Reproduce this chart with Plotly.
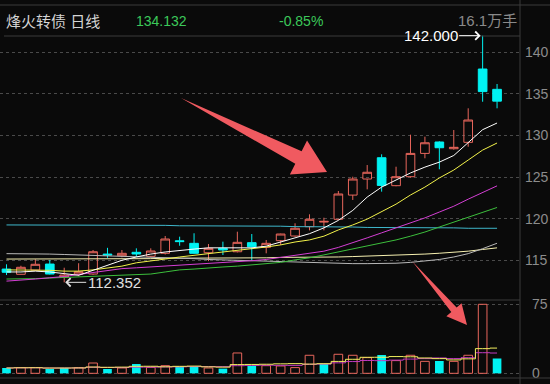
import plotly.graph_objects as go
import pandas as pd

W, H = 550, 384

# ---------------- data ----------------
idx = list(range(35))
opens = [113.95, 113.32, 113.83, 114.55, 112.99, 113.35, 113.35, 115.75, 115.55, 115.96,
         115.48, 115.84, 117.35, 117.04, 115.91, 116.44, 116.03, 117.12, 116.56, 117.36,
         117.92, 119.04, 119.60, 119.93, 122.84, 124.77, 127.33, 123.97, 125.05, 127.85,
         129.22, 128.41, 129.18, 137.99, 135.55]
highs = [114.52, 114.35, 115.12, 115.04, 114.11, 114.65, 116.24, 116.50, 116.24, 116.44,
         116.44, 117.92, 117.84, 118.25, 116.96, 117.24, 118.44, 118.16, 117.44, 118.20,
         119.45, 120.53, 120.12, 123.33, 125.05, 126.45, 127.74, 126.25, 130.10, 129.86,
         129.30, 130.66, 133.27, 142.000, 136.19]
lows = [113.23, 113.30, 113.80, 113.30, 112.352, 113.10, 113.25, 115.30, 115.36, 115.43,
        115.40, 115.70, 116.75, 115.80, 114.90, 115.64, 115.95, 114.95, 115.84, 116.84,
        117.85, 118.60, 118.60, 119.85, 122.25, 123.53, 123.25, 123.90, 124.95, 127.26,
        125.94, 128.30, 128.65, 134.06, 133.27]
closes = [113.56, 114.16, 114.52, 113.35, 113.23, 113.63, 116.03, 115.65, 115.84, 115.76,
          116.12, 117.56, 117.25, 115.84, 116.44, 116.24, 117.16, 116.63, 117.04, 118.16,
          118.85, 119.93, 119.68, 122.97, 124.77, 125.58, 124.00, 125.05, 127.85, 129.13,
          128.53, 128.58, 131.86, 135.28, 134.132]
volumes = [5.8, 6.2, 6.2, 4.7, 5.8, 6.2, 11.2, 4.7, 5.8, 10.1,
           6.5, 8.3, 7.2, 7.2, 5.8, 5.1, 22.1, 8.0, 8.3, 8.0,
           6.2, 19.6, 10.1, 20.7, 19.6, 17.0, 19.9, 13.8, 19.6, 13.0,
           13.4, 13.0, 19.6, 75.0, 16.1]
vol_up = [0, 1, 1, 0, 0, 1, 1, 0, 1, 0,
          1, 1, 0, 0, 1, 0, 1, 0, 1, 1,
          1, 1, 0, 1, 1, 1, 0, 1, 1, 1,
          0, 1, 1, 1, 0]

ma5 = [113.6, 113.6, 113.7, 113.6, 113.4, 113.2, 113.8, 114.4, 115.0, 115.4,
       115.75, 116.0, 116.2, 116.35, 116.5, 116.5, 116.5, 116.5, 116.7, 117.2,
       117.7, 118.2, 118.9, 119.8, 121.0, 122.6, 123.8, 124.65, 125.5, 126.2,
       126.8, 127.6, 129.2, 130.7, 131.5]
ma10 = [113.85, 113.85, 113.85, 113.8, 113.7, 113.7, 113.85, 114.1, 114.3, 114.7,
        114.9, 115.15, 115.4, 115.6, 115.75, 116.0, 116.2, 116.4, 116.6, 116.85,
        117.2, 117.45, 117.9, 118.65, 119.25, 119.95, 120.8, 121.75, 122.85, 123.8,
        124.9, 125.85, 127.05, 128.25, 129.1]
ma20 = [112.5, 112.6, 112.75, 112.9, 113.05, 113.3, 113.55, 113.8, 114.0, 114.1,
        114.2, 114.3, 114.4, 114.55, 114.65, 114.75, 114.85, 114.95, 115.1, 115.35,
        115.6, 115.85, 116.1, 116.55, 117.1, 117.7, 118.3, 118.9, 119.5, 120.1,
        120.8, 121.5, 122.35, 123.2, 123.95]
ma30 = [112.75, 112.75, 112.8, 112.87, 112.93, 113.0, 113.05, 113.1, 113.17, 113.23,
        113.35, 113.6, 113.85, 113.95, 114.1, 114.2, 114.3, 114.45, 114.55, 114.75,
        115.05, 115.3, 115.65, 116.0, 116.35, 116.7, 117.1, 117.45, 117.9, 118.4,
        119.0, 119.6, 120.2, 120.8, 121.35]
ma60 = [115.8, 115.8, 115.78, 115.75, 115.7, 115.65, 115.55, 115.5, 115.45, 115.4,
        115.35, 115.3, 115.25, 115.2, 115.1, 115.05, 115.0, 114.95, 114.9, 114.8,
        114.75, 114.7, 114.65, 114.6, 114.6, 114.6, 114.6, 114.65, 114.75, 114.9,
        115.1, 115.4, 115.8, 116.4, 117.05]
ma120 = [115.15, 115.15, 115.15, 115.15, 115.15, 115.15, 115.2, 115.2, 115.2, 115.2,
         115.2, 115.25, 115.25, 115.25, 115.25, 115.3, 115.3, 115.3, 115.3, 115.35,
         115.35, 115.35, 115.4, 115.4, 115.45, 115.5, 115.55, 115.6, 115.65, 115.75,
         115.85, 115.95, 116.1, 116.3, 116.5]
ma250 = [119.25, 119.25, 119.25, 119.2, 119.2, 119.2, 119.2, 119.2, 119.2, 119.2,
         119.2, 119.2, 119.15, 119.15, 119.1, 119.1, 119.1, 119.1, 119.1, 119.1,
         119.05, 119.05, 119.0, 119.0, 119.0, 118.95, 118.95, 118.95, 118.9, 118.9,
         118.9, 118.9, 118.85, 118.85, 118.85]

price_ticks = [115, 120, 125, 130, 135, 140]
vol_ticks = [0, 75]

title_name = "烽火转债 日线"
last_price = "134.132"
pct_change = "-0.85%"
last_vol = "16.1万手"
high_label = "142.000"
low_label = "112.352"

# ---------------- style ----------------
BG = "#0a0a0a"
RED = "#e8665c"
CYAN = "#00f2f2"
GRID = "#4a4a4a"
BORDER = "#3a3a3a"
TICK = "#8c8c8c"
FONT = "Liberation Sans, Arial, Noto Sans CJK SC, sans-serif"

def px(x):
    return x / W

def py(y):
    return 1 - y / H

fig = go.Figure()

ma_specs = [
    (ma250, "#3fb8cc"), (ma120, "#f6f0b0"), (ma60, "#b8b8b8"),
    (ma30, "#3cbf3c"), (ma20, "#d43fd4"), (ma10, "#f2f24a"), (ma5, "#ffffff"),
]
for arr, col in ma_specs:
    fig.add_trace(go.Scatter(x=idx, y=arr, mode="lines", line=dict(color=col, width=1),
                             xaxis="x", yaxis="y", hoverinfo="skip"))

fig.add_trace(go.Candlestick(
    x=idx, open=opens, high=highs, low=lows, close=closes,
    increasing=dict(line=dict(color=RED, width=1), fillcolor="rgba(0,0,0,0)"),
    decreasing=dict(line=dict(color=CYAN, width=1), fillcolor=CYAN),
    whiskerwidth=0, xaxis="x", yaxis="y", hoverinfo="skip"))

# volume
up_x = [i for i in idx if vol_up[i]]
dn_x = [i for i in idx if not vol_up[i]]
fig.add_trace(go.Bar(x=up_x, y=[volumes[i] for i in up_x], width=0.6,
                     marker=dict(color="rgba(0,0,0,0)", line=dict(color=RED, width=1)),
                     xaxis="x2", yaxis="y2", hoverinfo="skip"))
fig.add_trace(go.Bar(x=dn_x, y=[volumes[i] for i in dn_x], width=0.6,
                     marker=dict(color=CYAN, line=dict(width=0)),
                     xaxis="x2", yaxis="y2", hoverinfo="skip"))
vs = pd.Series(volumes)
vma5 = vs.rolling(5, min_periods=1).mean().tolist()
vma10 = vs.rolling(10, min_periods=1).mean().tolist()
fig.add_trace(go.Scatter(x=idx, y=vma10, mode="lines", line=dict(color="#c23ac2", width=1, shape="hvh"),
                         xaxis="x2", yaxis="y2", hoverinfo="skip"))
fig.add_trace(go.Scatter(x=idx, y=vma5, mode="lines", line=dict(color="#f4f060", width=1, shape="hvh"),
                         xaxis="x2", yaxis="y2", hoverinfo="skip"))

xr = [-0.45, 35.59]
xdom = [0, px(520)]
fig.update_layout(
    width=W, height=H, margin=dict(l=0, r=0, t=0, b=0),
    paper_bgcolor=BG, plot_bgcolor=BG, showlegend=False,
    barmode="overlay", boxgap=0.4, boxgroupgap=0,
    font=dict(family=FONT, color=TICK),
    xaxis=dict(domain=xdom, range=xr, visible=False, rangeslider=dict(visible=False), anchor="y"),
    xaxis2=dict(domain=xdom, range=xr, visible=False, anchor="y2"),
    yaxis=dict(domain=[py(299), py(35)], range=[110.35, 142.08], side="right", anchor="x",
               tickvals=price_ticks, ticktext=[str(t) for t in price_ticks],
               tickfont=dict(size=14, color=TICK, family=FONT), ticks="", ticklabelstandoff=4,
               showgrid=True, gridcolor=GRID, griddash="dot", gridwidth=1,
               zeroline=False, showline=False, automargin=False),
    yaxis2=dict(domain=[py(378), py(301)], range=[-5.1, 78.6], side="right", anchor="x2",
                tickvals=vol_ticks, ticktext=[str(t) for t in vol_ticks],
                tickfont=dict(size=14, color=TICK, family=FONT), ticks="", ticklabelstandoff=11,
                showgrid=True, gridcolor=GRID, griddash="dot", gridwidth=1,
                zeroline=False, showline=False, automargin=False),
)

shapes = []
def hline(y, x0=0, x1=520, col=BORDER):
    shapes.append(dict(type="line", xref="paper", yref="paper", x0=px(x0), x1=px(x1),
                       y0=py(y), y1=py(y), line=dict(color=col, width=1)))
hline(5, 0, 550)
hline(36, 4, 520)
hline(300, 0, 520)
hline(378, 0, 550)
shapes.append(dict(type="line", xref="paper", yref="paper", x0=px(520), x1=px(520),
                   y0=0, y1=1, line=dict(color=BORDER, width=1)))

def arrow(T, P, shaft_w, head_len, head_half, col="#f05a60"):
    import math
    dx, dy = P[0] - T[0], P[1] - T[1]
    L = math.hypot(dx, dy)
    ux, uy = dx / L, dy / L
    nx, ny = -uy, ux
    bx, by = P[0] - ux * head_len, P[1] - uy * head_len
    pts = [T,
           (bx + nx * shaft_w / 2, by + ny * shaft_w / 2),
           (bx + nx * head_half, by + ny * head_half),
           P,
           (bx - nx * head_half, by - ny * head_half),
           (bx - nx * shaft_w / 2, by - ny * shaft_w / 2)]
    path = "M " + " L ".join(f"{px(x):.5f},{py(y):.5f}" for x, y in pts) + " Z"
    shapes.append(dict(type="path", xref="paper", yref="paper", path=path,
                       fillcolor=col, line=dict(width=0)))

arrow((181, 98), (327, 172), 14, 32, 19)
arrow((412, 261), (467, 325), 7, 20, 10)
fig.update_layout(shapes=shapes)

ann = []
def text(x, y, s, col, size, anchor="left"):
    ann.append(dict(x=px(x), y=py(y), xref="paper", yref="paper", text=s, showarrow=False,
                    xanchor=anchor, yanchor="middle", font=dict(color=col, size=size, family=FONT)))
text(4, 21, title_name, "#d4d4d4", 15)
text(134, 21, last_price, "#3cc85a", 14)
text(277, 21, pct_change, "#3cc85a", 14)
text(519, 20, last_vol, "#8a8a8a", 15, "right")

# high / low markers with arrows pointing at the extreme prices
ann.append(dict(x=33, y=highs[33], xref="x", yref="y", text=high_label,
                showarrow=True, ax=-52, ay=0, arrowhead=4, arrowsize=1.6, arrowwidth=1,
                arrowcolor="#ffffff", standoff=2,
                font=dict(color="#ffffff", size=15, family=FONT)))
ann.append(dict(x=4, y=lows[4], xref="x", yref="y", text=low_label,
                showarrow=True, ax=50, ay=0, arrowhead=4, arrowsize=1.6, arrowwidth=1,
                arrowcolor="#e0e0e0", standoff=1,
                font=dict(color="#e0e0e0", size=15, family=FONT)))
fig.update_layout(annotations=ann)

fig.write_html("out.html")
